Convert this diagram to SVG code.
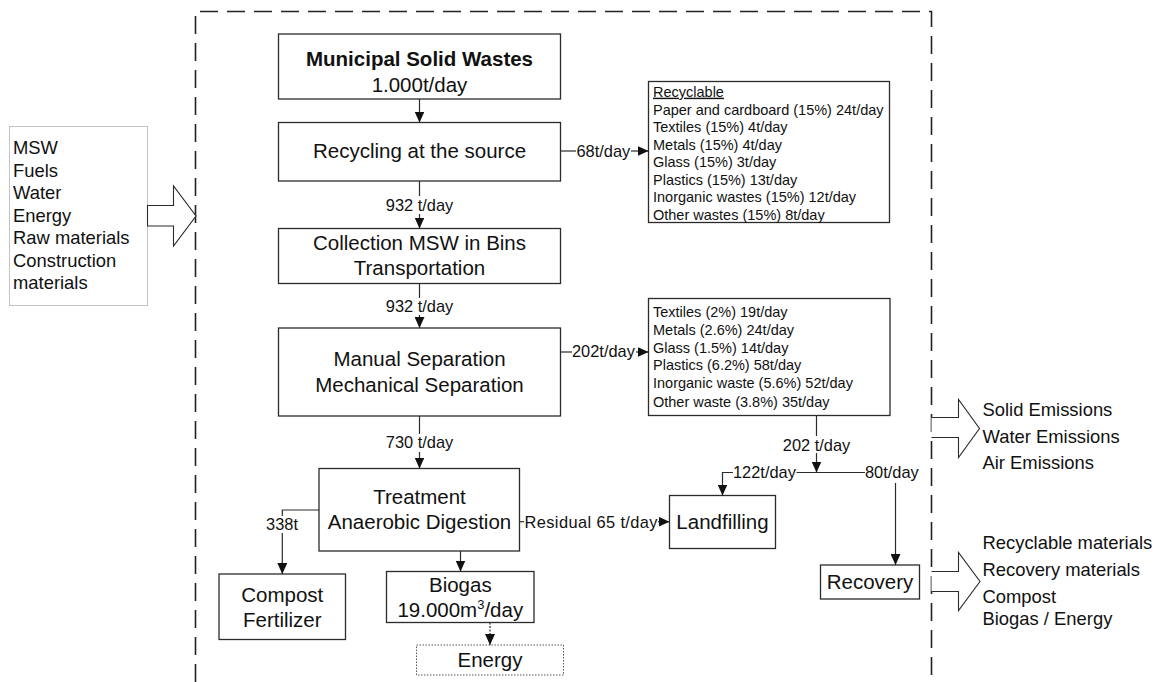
<svg xmlns="http://www.w3.org/2000/svg" width="1159" height="682" viewBox="0 0 1159 682">
<defs>
<style>
.box{fill:#fff;stroke:#2b2b2b;stroke-width:1.3}
.t{font-family:"Liberation Sans",Arial,sans-serif;fill:#111}
.m{font-size:20.5px;text-anchor:middle}
.b{font-weight:bold}
.lb{font-size:16.4px}
.li{font-size:14.5px}
.io{font-size:18.4px}
.c{fill:none;stroke:#2b2b2b;stroke-width:1.2}
.blk{fill:#fff;stroke:#2b2b2b;stroke-width:1.1}
</style>
<marker id="ah" viewBox="0 0 11 10" refX="11" refY="5" markerWidth="11" markerHeight="10" orient="auto" markerUnits="userSpaceOnUse">
<path d="M0,0 L11,5 L0,10 z" fill="#111"/>
</marker>
</defs>
<rect width="1159" height="682" fill="#fff"/>

<g id="boundary">
<path d="M195.5,682 V11.5 H931.5 V682" fill="none" stroke="#222" stroke-width="1.6" stroke-dasharray="18,9"/>
</g>

<g id="inputs">
<rect x="9.5" y="126.5" width="138" height="179" fill="#fff" stroke="#c4c4c4" stroke-width="1"/>
<text class="t io" x="13" y="154">MSW</text>
<text class="t io" x="13" y="176.5">Fuels</text>
<text class="t io" x="13" y="199">Water</text>
<text class="t io" x="13" y="221.5">Energy</text>
<text class="t io" x="13" y="244">Raw materials</text>
<text class="t io" x="13" y="266.5">Construction</text>
<text class="t io" x="13" y="289">materials</text>
<polygon class="blk" points="147.5,205.5 173.5,205.5 173.5,186 196,216 173.5,246 173.5,226 147.5,226"/>
</g>

<g id="outputs-emissions">
<polyline class="blk" points="931.5,417.5 958.5,417.5 958.5,399.5 979.5,428.5 958.5,457.5 958.5,437.5 931.5,437.5"/>
<text class="t io" x="982.5" y="416">Solid Emissions</text>
<text class="t io" x="982.5" y="442.7">Water Emissions</text>
<text class="t io" x="982.5" y="468.7">Air Emissions</text>
</g>

<g id="outputs-products">
<polyline class="blk" points="931.5,571.5 958.5,571.5 958.5,552.5 980,581.5 958.5,610.5 958.5,591.5 931.5,591.5"/>
<text class="t io" x="982.5" y="549.3">Recyclable materials</text>
<text class="t io" x="982.5" y="576">Recovery materials</text>
<text class="t io" x="982.5" y="603.3">Compost</text>
<text class="t io" x="982.5" y="625.3">Biogas / Energy</text>
</g>

<g id="msw">
<rect class="box" x="278.5" y="34" width="282" height="65"/>
<text class="t m b" x="419.5" y="66">Municipal Solid Wastes</text>
<text class="t m" x="419.5" y="91.7">1.000t/day</text>
</g>

<g id="recycling">
<rect class="box" x="278.5" y="122.5" width="282" height="58.5"/>
<text class="t m" x="419.5" y="158.3">Recycling at the source</text>
</g>

<g id="recyclable">
<rect class="box" x="648.5" y="81.5" width="241" height="141"/>
<text class="t li" x="653" y="96.7" text-decoration="underline">Recyclable</text>
<text class="t li" x="653" y="114.5">Paper and cardboard (15%) 24t/day</text>
<text class="t li" x="653" y="132">Textiles (15%) 4t/day</text>
<text class="t li" x="653" y="149.5">Metals (15%) 4t/day</text>
<text class="t li" x="653" y="167">Glass (15%) 3t/day</text>
<text class="t li" x="653" y="184.5">Plastics (15%) 13t/day</text>
<text class="t li" x="653" y="202">Inorganic wastes (15%) 12t/day</text>
<text class="t li" x="653" y="219.5">Other wastes (15%) 8t/day</text>
</g>

<g id="collection">
<rect class="box" x="278.5" y="228.5" width="282" height="55"/>
<text class="t m" x="419.5" y="250">Collection MSW in Bins</text>
<text class="t m" x="419.5" y="275">Transportation</text>
</g>

<g id="separation">
<rect class="box" x="278.5" y="328" width="282" height="88"/>
<text class="t m" x="419.5" y="365.7">Manual Separation</text>
<text class="t m" x="419.5" y="391.7">Mechanical Separation</text>
</g>

<g id="separated">
<rect class="box" x="648.5" y="298.5" width="241.5" height="117"/>
<text class="t li" x="653" y="317.3">Textiles (2%) 19t/day</text>
<text class="t li" x="653" y="335">Metals (2.6%) 24t/day</text>
<text class="t li" x="653" y="352.7">Glass (1.5%) 14t/day</text>
<text class="t li" x="653" y="370">Plastics (6.2%) 58t/day</text>
<text class="t li" x="653" y="388.3">Inorganic waste (5.6%) 52t/day</text>
<text class="t li" x="653" y="406.7">Other waste (3.8%) 35t/day</text>
</g>

<g id="treatment">
<rect class="box" x="319" y="468.5" width="200.5" height="82.5"/>
<text class="t m" x="419.5" y="504">Treatment</text>
<text class="t m" x="419.5" y="529">Anaerobic Digestion</text>
</g>

<g id="landfilling">
<rect class="box" x="669.5" y="495.5" width="106" height="53"/>
<text class="t m" x="722.5" y="529">Landfilling</text>
</g>

<g id="recovery">
<rect class="box" x="820.5" y="565" width="99" height="34"/>
<text class="t m" x="870" y="589">Recovery</text>
</g>

<g id="compost">
<rect class="box" x="219" y="574" width="126.5" height="65.5"/>
<text class="t m" x="282.3" y="601.7">Compost</text>
<text class="t m" x="282.3" y="626.7">Fertilizer</text>
</g>

<g id="biogas">
<rect class="box" x="386.5" y="571.5" width="147.5" height="51"/>
<text class="t m" x="460.3" y="592.3">Biogas</text>
<text class="t m" x="460.3" y="617.3">19.000m<tspan font-size="13px" dy="-8">3</tspan><tspan dy="8">/day</tspan></text>
</g>

<g id="energy">
<rect x="416.5" y="645" width="147" height="30" fill="#fff" stroke="#555" stroke-width="1" stroke-dasharray="1.5,1.5"/>
<text class="t m" x="490" y="667.3">Energy</text>
</g>

<g id="connectors">
<path class="c" d="M419.5,99 V122.5" marker-end="url(#ah)"/>
<path class="c" d="M419.5,181 V196"/>
<path class="c" d="M419.5,214 V228.5" marker-end="url(#ah)"/>
<text class="t lb" x="419.5" y="210.7" text-anchor="middle">932 t/day</text>
<path class="c" d="M419.5,283.5 V298"/>
<path class="c" d="M419.5,315 V328" marker-end="url(#ah)"/>
<text class="t lb" x="419.5" y="312" text-anchor="middle">932 t/day</text>
<path class="c" d="M419.5,416 V434"/>
<path class="c" d="M419.5,452 V468.5" marker-end="url(#ah)"/>
<text class="t lb" x="419.5" y="448.3" text-anchor="middle">730 t/day</text>

<path class="c" d="M560.5,151 H576"/>
<text class="t lb" x="576.5" y="156.7">68t/day</text>
<path class="c" d="M631,151 H648.5" marker-end="url(#ah)"/>

<path class="c" d="M560.5,352 H572"/>
<text class="t lb" x="572" y="357.3">202t/day</text>
<path class="c" d="M636,352 H648.5" marker-end="url(#ah)"/>

<path class="c" d="M816.5,415.5 V436"/>
<text class="t lb" x="816.5" y="450.7" text-anchor="middle">202 t/day</text>
<path class="c" d="M816.5,453 V472.5" marker-end="url(#ah)"/>
<path class="c" d="M796.5,472.5 H865"/>
<text class="t lb" x="733" y="478.3">122t/day</text>
<text class="t lb" x="865" y="478.3">80t/day</text>
<path class="c" d="M733,472.5 H722.5 V495.5" marker-end="url(#ah)"/>
<path class="c" d="M895.5,483 V565" marker-end="url(#ah)"/>

<path class="c" d="M519.5,521.7 H524"/>
<text class="t lb" x="524.5" y="527.7" textLength="133" lengthAdjust="spacing">Residual 65 t/day</text>
<path class="c" d="M658,521.7 H669.5" marker-end="url(#ah)"/>

<path class="c" d="M319,510 H282.3 V516"/>
<text class="t lb" x="282" y="530" text-anchor="middle">338t</text>
<path class="c" d="M282.3,533 V574" marker-end="url(#ah)"/>

<path class="c" d="M460.5,551 V571.5" marker-end="url(#ah)"/>
<path class="c" d="M490,622.5 V645" stroke-dasharray="2,1.5" marker-end="url(#ah)"/>
</g>
</svg>
